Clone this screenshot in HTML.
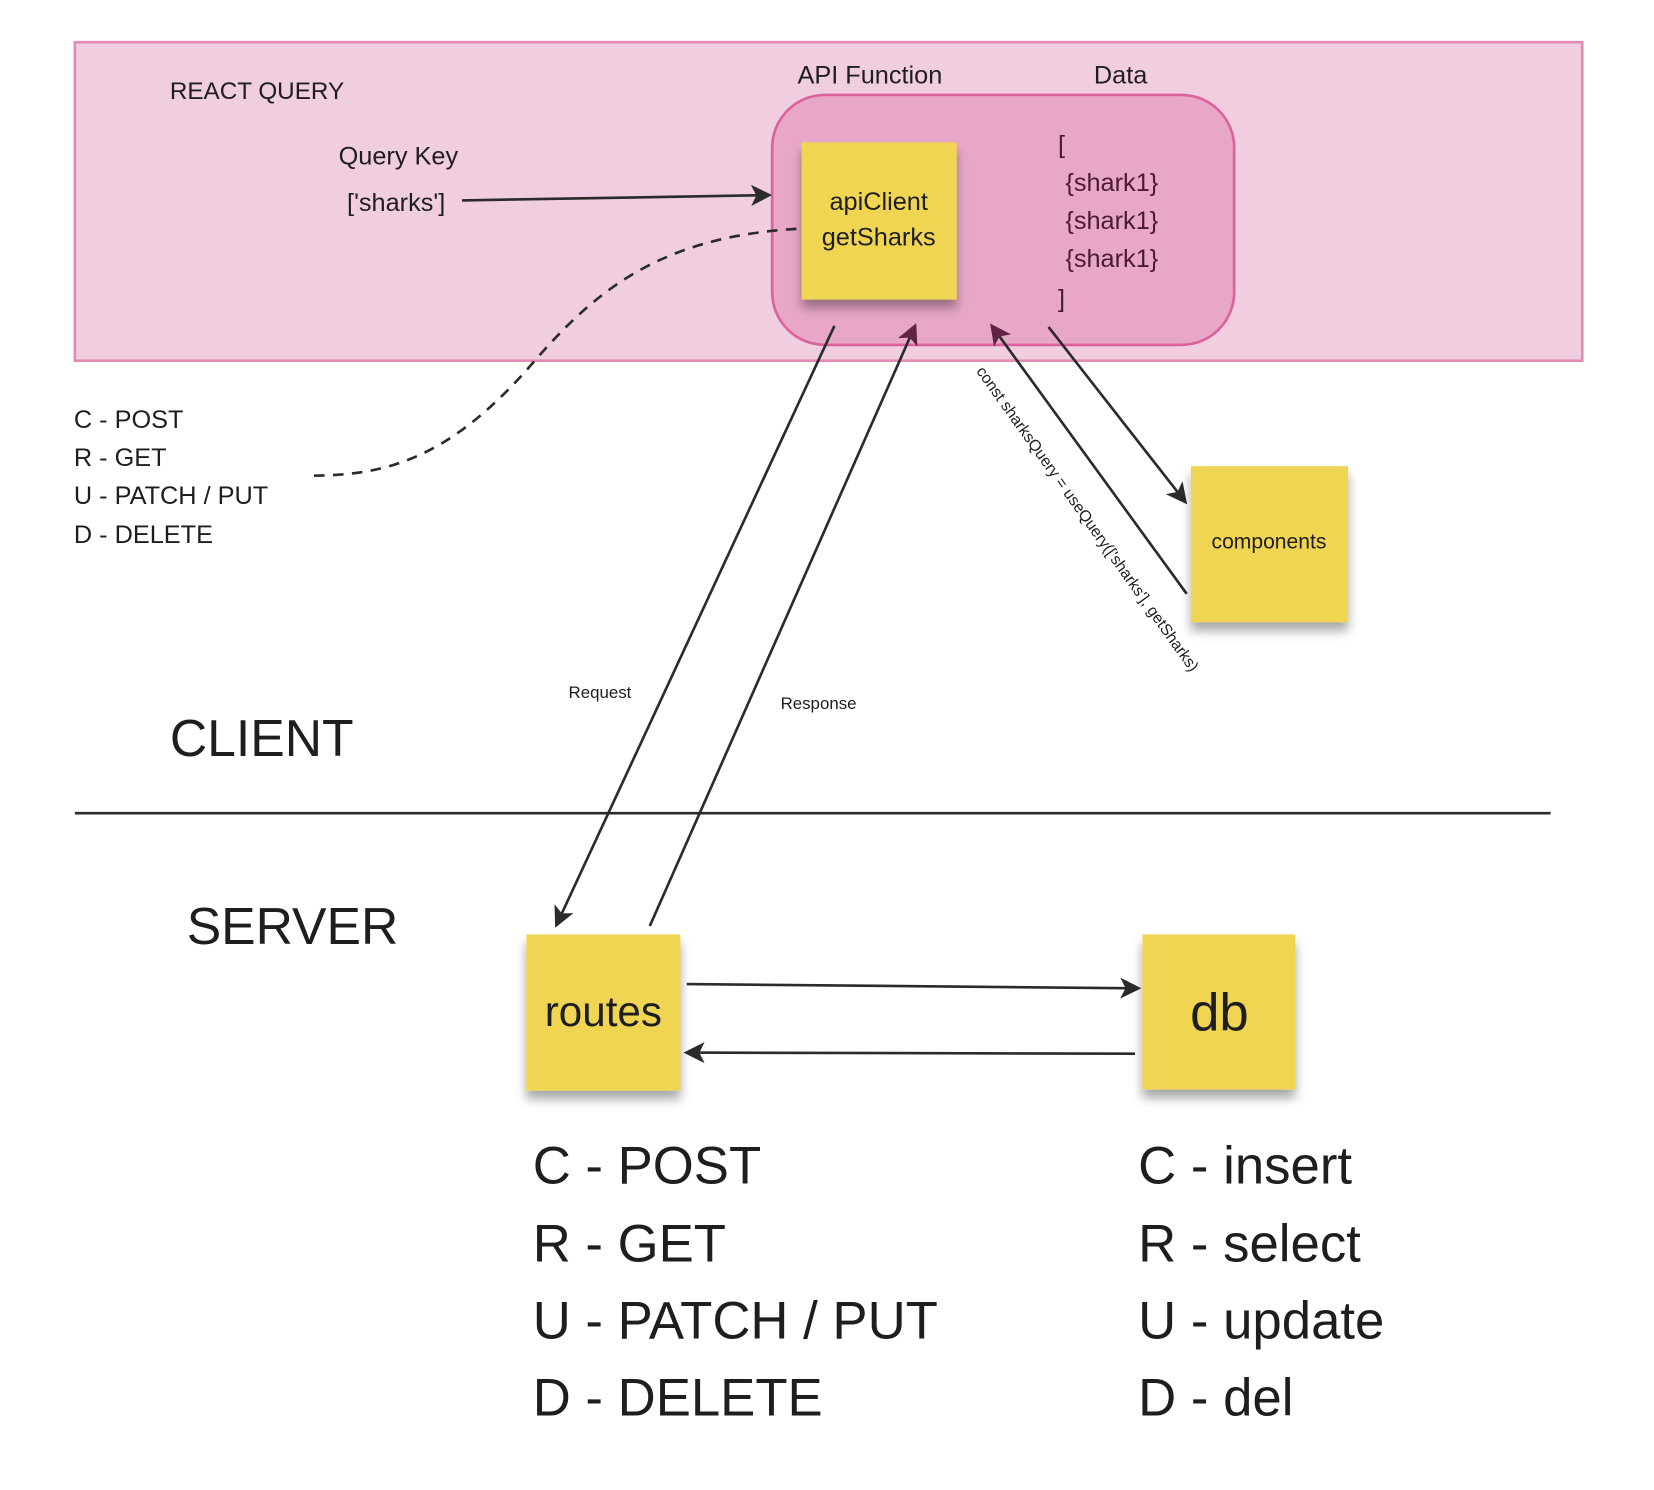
<!DOCTYPE html>
<html><head><meta charset="utf-8"><style>
html,body{margin:0;padding:0;background:#fff;}
svg{display:block;}
text{font-family:"Liberation Sans",sans-serif;fill:#1e1e1e;}
</style></head><body>
<svg width="1654" height="1490" viewBox="0 0 1568 1412.7" preserveAspectRatio="none" xmlns="http://www.w3.org/2000/svg">
<defs>
<marker id="ah" viewBox="0 0 10 10" refX="8" refY="5" markerWidth="8" markerHeight="8" orient="auto"><path d="M0,0 L10,5 L0,10 L2.5,5 z" fill="#2b2b2b"/></marker>
<marker id="ahp" viewBox="0 0 10 10" refX="8" refY="5" markerWidth="8" markerHeight="8" orient="auto"><path d="M0,0 L10,5 L0,10 L2.5,5 z" fill="#5e2345"/></marker>
<filter id="sh" x="-20%" y="-20%" width="140%" height="150%"><feDropShadow dx="0" dy="8" stdDeviation="5" flood-color="#000" flood-opacity="0.35"/></filter>
</defs>
<rect x="71" y="40" width="1429" height="302" fill="#f0cddf" stroke="#e38ab5" stroke-width="2.5"/>
<rect x="732" y="90" width="438" height="237" rx="50" fill="#e8a7c7" stroke="#db629d" stroke-width="2.5"/>
<text x="161" y="94" font-size="23">REACT QUERY</text>
<text x="756" y="79" font-size="24">API Function</text>
<text x="1037" y="79" font-size="24">Data</text>
<text x="321" y="156" font-size="24">Query Key</text>
<text x="329" y="200" font-size="24">['sharks']</text>
<line x1="438" y1="190" x2="728" y2="185" stroke="#2b2b2b" stroke-width="2.5" marker-end="url(#ah)"/>
<path d="M755,217 C620,225 560,280 500,350 C420,440 360,450 297,451" fill="none" stroke="#2b2b2b" stroke-width="2.5" stroke-dasharray="10,8"/>
<rect x="760" y="135" width="147" height="149" fill="#f0d553" filter="url(#sh)"/>
<text x="833" y="199" font-size="24" text-anchor="middle">apiClient</text>
<text x="833" y="233" font-size="24" text-anchor="middle">getSharks</text>
<g font-size="24">
<text x="1003" y="145" style="fill:#4a1a35">[</text>
<text x="1010" y="181" style="fill:#4a1a35">{shark1}</text>
<text x="1010" y="217" style="fill:#4a1a35">{shark1}</text>
<text x="1010" y="253" style="fill:#4a1a35">{shark1}</text>
<text x="1003" y="291" style="fill:#4a1a35">]</text>
</g>
<g font-size="24">
<text x="70" y="406">C - POST</text>
<text x="70" y="442">R - GET</text>
<text x="70" y="478">U - PATCH / PUT</text>
<text x="70" y="515">D - DELETE</text>
</g>
<line x1="791" y1="309" x2="528" y2="876" stroke="#2b2b2b" stroke-width="2.5" marker-end="url(#ah)"/>
<line x1="616" y1="878" x2="867" y2="310" stroke="#2b2b2b" stroke-width="2.5" marker-end="url(#ahp)"/>
<line x1="1125" y1="563" x2="941" y2="310" stroke="#2b2b2b" stroke-width="2.5" marker-end="url(#ahp)"/>
<line x1="994" y1="310" x2="1123" y2="475" stroke="#2b2b2b" stroke-width="2.5" marker-end="url(#ah)"/>
<rect x="1129" y="442" width="149" height="148" fill="#f0d553" filter="url(#sh)"/>
<text x="1203" y="520" font-size="20" text-anchor="middle">components</text>
<text x="0" y="0" font-size="15" transform="translate(925,352) rotate(54.5)">const sharksQuery = useQuery(['sharks'], getSharks)</text>
<text x="539" y="662" font-size="16">Request</text>
<text x="740" y="672" font-size="16">Response</text>
<text x="161" y="717" font-size="49">CLIENT</text>
<line x1="71" y1="771" x2="1470" y2="771" stroke="#2b2b2b" stroke-width="2.5"/>
<text x="177" y="895" font-size="49">SERVER</text>
<rect x="499" y="886" width="146" height="148" fill="#f0d553" filter="url(#sh)"/>
<text x="572" y="973" font-size="40" text-anchor="middle">routes</text>
<rect x="1083" y="886" width="145" height="147" fill="#f0d553" filter="url(#sh)"/>
<text x="1156" y="977" font-size="50" text-anchor="middle">db</text>
<line x1="651" y1="933" x2="1078" y2="937" stroke="#2b2b2b" stroke-width="2.5" marker-end="url(#ah)"/>
<line x1="1076" y1="999" x2="652" y2="998" stroke="#2b2b2b" stroke-width="2.5" marker-end="url(#ah)"/>
<g font-size="50">
<text x="505" y="1122">C - POST</text>
<text x="505" y="1196">R - GET</text>
<text x="505" y="1269">U - PATCH / PUT</text>
<text x="505" y="1342">D - DELETE</text>
<text x="1079" y="1122">C - insert</text>
<text x="1079" y="1196">R - select</text>
<text x="1079" y="1269">U - update</text>
<text x="1079" y="1342">D - del</text>
</g>
</svg>
</body></html>
